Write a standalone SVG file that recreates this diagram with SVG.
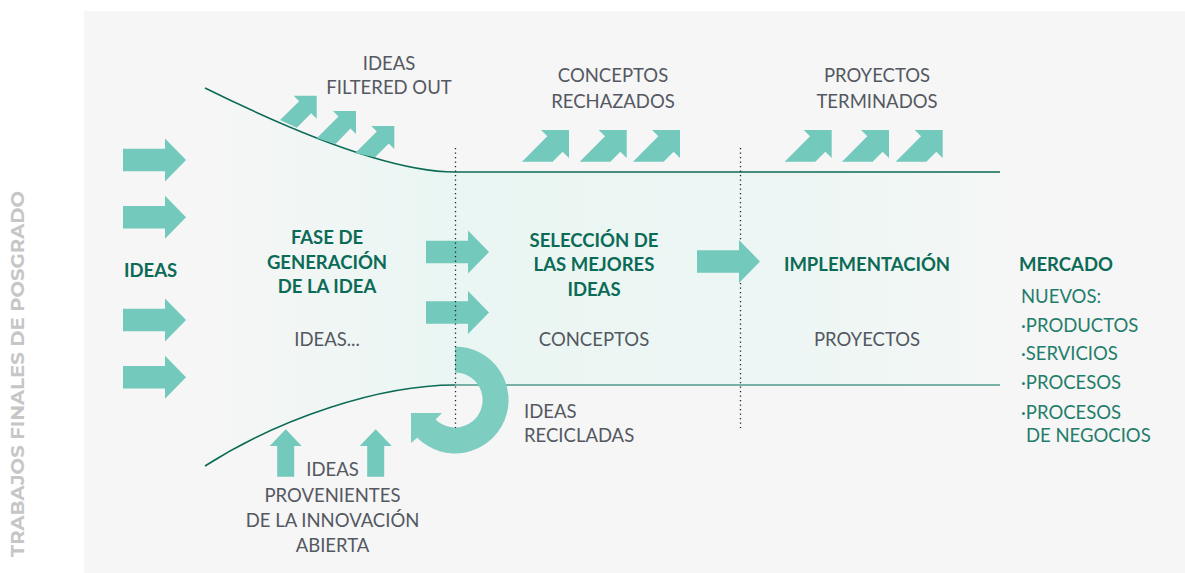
<svg xmlns="http://www.w3.org/2000/svg" xmlns:xlink="http://www.w3.org/1999/xlink" width="1185" height="573" viewBox="0 0 1185 573">
<style>
.t{font-family:Lato,"Open Sans","Liberation Sans",sans-serif;font-size:18.5px;fill:#545861;text-anchor:middle}
.b{font-family:Lato,"Open Sans","Liberation Sans",sans-serif;font-size:18.5px;font-weight:700;fill:#0c6b57;text-anchor:middle}
.m{font-family:Lato,"Open Sans","Liberation Sans",sans-serif;font-size:18.5px;fill:#247d6b}
.arr{fill:#73c9bb}
.dot{stroke:#222;stroke-width:1.3;stroke-dasharray:1.3 3.2;fill:none}
.edge{stroke:#0c6b57;stroke-width:1.6;fill:none}
</style>
<defs>
<linearGradient id="fg" gradientUnits="userSpaceOnUse" x1="205" y1="0" x2="1000" y2="0">
<stop offset="0" stop-color="#f6f6f6"/>
<stop offset="0.3" stop-color="#eaf6f3"/>
<stop offset="0.75" stop-color="#edf6f4"/>
<stop offset="1" stop-color="#f4f7f6"/>
</linearGradient>
<path id="ar" d="M0,-11.3 H42 V-21.5 L63,0 L42,21.5 V11.3 H0 Z"/>
<path id="dg" d="M-47,31.7 L-21.65,6.35 L-28,0 L0,0 L0,28 L-6.35,21.65 L-16.4,31.7 Z"/>
<path id="up" d="M0,0 L16,16.7 L8.5,16.7 L8.5,47.4 L-8.5,47.4 L-8.5,16.7 L-16,16.7 Z"/>
</defs>
<rect x="0" y="0" width="1185" height="573" fill="#ffffff"/>
<rect x="84" y="11" width="1101" height="562" fill="#f6f6f6"/>
<text transform="translate(24,374) rotate(-90)" font-family="Montserrat,'Liberation Sans',sans-serif" font-size="18" font-weight="700" fill="#c6c6c6" text-anchor="middle" textLength="366" lengthAdjust="spacingAndGlyphs">TRABAJOS FINALES DE POSGRADO</text>
<g id="funnel">
<path d="M205,88 C290,130 390,172 455,172 H1000 V385 H455 C380,385 280,418 205,466 Z" fill="url(#fg)"/>
<path class="edge" d="M205,88 C290,130 390,172 455,172 H1000"/>
<path class="edge" d="M205,466 C280,418 380,385 455,385"/>
<path d="M455,385 H1000" stroke="#4f9a8b" stroke-width="1.6" fill="none"/>
</g>
<g id="connectors">
<g class="arr">
<use xlink:href="#ar" x="123" y="160"/>
<use xlink:href="#ar" x="123" y="217.3"/>
<use xlink:href="#ar" x="123" y="320"/>
<use xlink:href="#ar" x="123" y="377.3"/>
<use xlink:href="#ar" x="426" y="252"/>
<use xlink:href="#ar" x="426" y="312.5"/>
<polygon points="280,120 299.2,101.2 293.7,95.7 316.7,95.7 316.7,118.7 311.2,113.2 296.7,127.7"/>
<polygon points="316.7,138.3 338.5,116.5 333,111 356,111 356,134 350.5,128.5 335.5,144"/>
<polygon points="355,153.3 376.8,131.5 371.3,126 394.3,126 394.3,149 388.8,143.5 375,157.3"/>
<use xlink:href="#dg" x="569" y="130"/>
<use xlink:href="#dg" x="626.7" y="130"/>
<use xlink:href="#dg" x="680" y="130"/>
<use xlink:href="#dg" x="831.7" y="130"/>
<use xlink:href="#dg" x="889" y="130"/>
<use xlink:href="#dg" x="942.7" y="130"/>
<use xlink:href="#up" x="285.7" y="429.3"/>
<use xlink:href="#up" x="375.7" y="429.3"/>
</g>
<path d="M455,346.5 A53.5,53.5 0 1 1 417.2,437.8 L411,443 L411,413 L442,413 L435.6,419.4 A27.5,27.5 0 1 0 455,372.5 Z" fill="#7ecdc1"/>
<line class="dot" x1="455.5" y1="148" x2="455.5" y2="428"/>
<line class="dot" x1="740.5" y1="148" x2="740.5" y2="428"/>
<use class="arr" xlink:href="#ar" x="697" y="261.5"/>
</g>
<g id="node-ideas-in"><text class="b" x="124" y="277" style="text-anchor:start">IDEAS</text></g>
<g id="node-filtered"><text class="t" x="389" y="70">IDEAS</text><text class="t" x="389" y="94.3">FILTERED OUT</text></g>
<g id="node-rechazados"><text class="t" x="613" y="82.3">CONCEPTOS</text><text class="t" x="613" y="108.3">RECHAZADOS</text></g>
<g id="node-terminados"><text class="t" x="877" y="82.3">PROYECTOS</text><text class="t" x="877" y="108.3">TERMINADOS</text></g>
<g id="node-generacion">
<text class="b" x="327" y="244">FASE DE</text>
<text class="b" x="327" y="268.5">GENERACIÓN</text>
<text class="b" x="327" y="293">DE LA IDEA</text>
<text class="t" x="327" y="346">IDEAS...</text>
</g>
<g id="node-seleccion">
<text class="b" x="594" y="246.5">SELECCIÓN DE</text>
<text class="b" x="594" y="271">LAS MEJORES</text>
<text class="b" x="594" y="295.5">IDEAS</text>
<text class="t" x="594" y="346">CONCEPTOS</text>
</g>
<g id="node-implementacion">
<text class="b" x="867" y="271">IMPLEMENTACIÓN</text>
<text class="t" x="867" y="346">PROYECTOS</text>
</g>
<g id="node-recicladas"><text class="t" x="524" y="417.7" style="text-anchor:start">IDEAS</text><text class="t" x="524" y="442.3" style="text-anchor:start">RECICLADAS</text></g>
<g id="node-abierta">
<text class="t" x="332.5" y="475.7">IDEAS</text>
<text class="t" x="332.5" y="501.7">PROVENIENTES</text>
<text class="t" x="332.5" y="526.7">DE LA INNOVACIÓN</text>
<text class="t" x="332.5" y="551.7">ABIERTA</text>
</g>
<g id="node-mercado">
<text class="b" x="1019" y="270.7" style="text-anchor:start">MERCADO</text>
<text class="m" x="1021" y="302.7">NUEVOS:</text>
<text class="m" x="1021" y="331.7">·PRODUCTOS</text>
<text class="m" x="1021" y="360">·SERVICIOS</text>
<text class="m" x="1021" y="389">·PROCESOS</text>
<text class="m" x="1021" y="419">·PROCESOS</text>
<text class="m" x="1026" y="442.3">DE NEGOCIOS</text>
</g>
</svg>
